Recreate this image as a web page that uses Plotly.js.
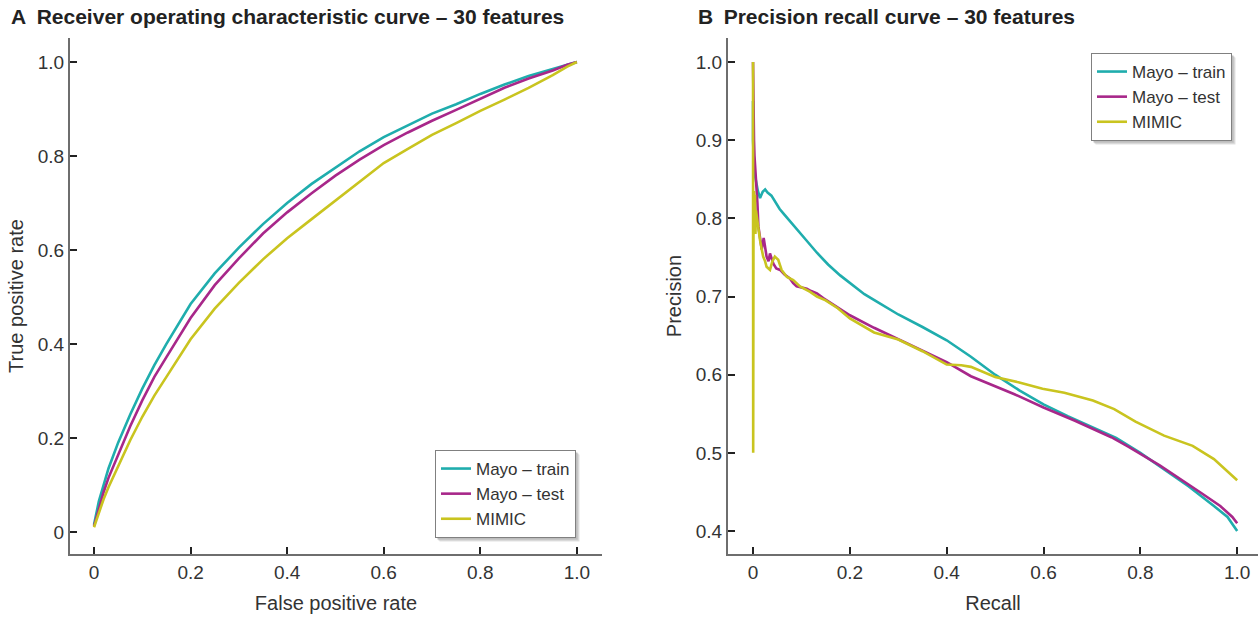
<!DOCTYPE html>
<html>
<head>
<meta charset="utf-8">
<script src="https://cdn.plot.ly/plotly-3.0.1.min.js"></script>
<style>html,body{margin:0;padding:0;background:#fff;}#chart{width:1258px;height:617px;}</style>
</head>
<body>
<div id="chart"></div>
<script>
// ---------- Data ----------
const seriesNames = ["Mayo \u2013 train", "Mayo \u2013 test", "MIMIC"];
const seriesColors = ["#1fadad", "#a8278a", "#c9c41f"];

// Panel A: ROC
const rocFpr   = [0, 0.005, 0.01, 0.02, 0.03, 0.05, 0.075, 0.1, 0.125, 0.15, 0.2, 0.25, 0.3, 0.35, 0.4, 0.45, 0.5, 0.55, 0.6, 0.65, 0.7, 0.75, 0.8, 0.85, 0.9, 0.95, 0.98, 1.0];
const rocTrain = [0.015, 0.04, 0.065, 0.10, 0.135, 0.19, 0.25, 0.305, 0.355, 0.40, 0.485, 0.55, 0.605, 0.655, 0.70, 0.74, 0.775, 0.81, 0.84, 0.865, 0.89, 0.91, 0.932, 0.952, 0.97, 0.985, 0.995, 1.0];
const rocTest  = [0.012, 0.03, 0.05, 0.085, 0.115, 0.165, 0.225, 0.28, 0.33, 0.372, 0.455, 0.525, 0.582, 0.635, 0.68, 0.72, 0.758, 0.792, 0.823, 0.85, 0.875, 0.898, 0.922, 0.945, 0.965, 0.982, 0.994, 1.0];
const rocMimic = [0.01, 0.025, 0.04, 0.07, 0.095, 0.14, 0.195, 0.245, 0.29, 0.33, 0.41, 0.475, 0.53, 0.58, 0.625, 0.665, 0.705, 0.745, 0.785, 0.815, 0.845, 0.87, 0.896, 0.92, 0.945, 0.972, 0.99, 1.0];

// Panel B: precision-recall
const prTrainRecall = [0, 0, 0.002, 0.004, 0.007, 0.010, 0.0145, 0.02, 0.025, 0.03, 0.038, 0.045, 0.055, 0.063, 0.075, 0.09, 0.11, 0.132, 0.155, 0.18, 0.205, 0.23, 0.26, 0.3, 0.35, 0.4, 0.45, 0.5, 0.55, 0.6, 0.65, 0.7, 0.75, 0.8, 0.85, 0.9, 0.95, 0.98, 1.0];
const prTrainPrec   = [0.95, 0.90, 0.87, 0.855, 0.845, 0.835, 0.826, 0.834, 0.837, 0.833, 0.829, 0.822, 0.812, 0.806, 0.797, 0.787, 0.772, 0.756, 0.741, 0.727, 0.715, 0.703, 0.692, 0.677, 0.661, 0.644, 0.623, 0.600, 0.58, 0.562, 0.547, 0.533, 0.519, 0.50, 0.479, 0.457, 0.433, 0.418, 0.40];

const prTestRecall = [0, 0.0005, 0.001, 0.002, 0.003, 0.004, 0.006, 0.0076, 0.009, 0.011, 0.014, 0.018, 0.022, 0.028, 0.032, 0.035, 0.042, 0.048, 0.056, 0.065, 0.076, 0.083, 0.09, 0.1, 0.111, 0.12, 0.132, 0.145, 0.16, 0.18, 0.2, 0.25, 0.3, 0.35, 0.4, 0.45, 0.5, 0.54, 0.6, 0.665, 0.74, 0.775, 0.84, 0.885, 0.925, 0.965, 0.99, 1.0];
const prTestPrec   = [1.0, 0.95, 0.92, 0.90, 0.88, 0.87, 0.855, 0.84, 0.82, 0.79, 0.775, 0.76, 0.775, 0.751, 0.745, 0.755, 0.742, 0.736, 0.734, 0.728, 0.723, 0.717, 0.713, 0.712, 0.71, 0.707, 0.704, 0.698, 0.692, 0.685, 0.676, 0.66, 0.645, 0.63, 0.616, 0.598, 0.585, 0.575, 0.558, 0.541, 0.52, 0.508, 0.484, 0.466, 0.449, 0.432, 0.418, 0.41];

const prMimicRecall = [0, 0.0003, 0.0007, 0.001, 0.002, 0.003, 0.004, 0.005, 0.006, 0.008, 0.011, 0.0145, 0.018, 0.021, 0.025, 0.028, 0.035, 0.04, 0.045, 0.052, 0.059, 0.07, 0.083, 0.097, 0.118, 0.132, 0.15, 0.175, 0.2, 0.25, 0.3, 0.35, 0.4, 0.43, 0.45, 0.5, 0.55, 0.598, 0.643, 0.702, 0.746, 0.79, 0.849, 0.908, 0.952, 0.982, 1.0];
const prMimicPrec   = [1.0, 0.50, 0.84, 0.80, 0.835, 0.79, 0.83, 0.78, 0.81, 0.80, 0.789, 0.772, 0.76, 0.751, 0.745, 0.738, 0.734, 0.745, 0.751, 0.747, 0.734, 0.725, 0.721, 0.713, 0.706, 0.70, 0.695, 0.685, 0.672, 0.654, 0.645, 0.63, 0.613, 0.612, 0.61, 0.597, 0.59, 0.582, 0.577, 0.567, 0.556, 0.540, 0.522, 0.509, 0.492, 0.475, 0.465];

// Tick labels
const rocTickVals = [0, 0.2, 0.4, 0.6, 0.8, 1.0];
const rocTickText = ["0", "0.2", "0.4", "0.6", "0.8", "1.0"];
const prXTickVals = [0, 0.2, 0.4, 0.6, 0.8, 1.0];
const prXTickText = ["0", "0.2", "0.4", "0.6", "0.8", "1.0"];
const prYTickVals = [0.4, 0.5, 0.6, 0.7, 0.8, 0.9, 1.0];
const prYTickText = ["0.4", "0.5", "0.6", "0.7", "0.8", "0.9", "1.0"];

// ---------- Figure ----------
const W = 1258, H = 617;
const FONT = "Liberation Sans, Arial, Helvetica, sans-serif";
const lineW = 2.6;
const TICK_SIZE = 19, TITLE_SIZE = 20, HEAD_SIZE = 21, LEG_SIZE = 17;

const rocY = [rocTrain, rocTest, rocMimic];
const prX = [prTrainRecall, prTestRecall, prMimicRecall];
const prY = [prTrainPrec, prTestPrec, prMimicPrec];

const traces = [];
for (let i = 0; i < 3; i++) {
  traces.push({
    x: rocFpr, y: rocY[i], type: "scatter", mode: "lines",
    name: seriesNames[i], line: {color: seriesColors[i], width: lineW},
    xaxis: "x", yaxis: "y", legend: "legend"
  });
}
for (let i = 0; i < 3; i++) {
  traces.push({
    x: prX[i], y: prY[i], type: "scatter", mode: "lines",
    name: seriesNames[i], line: {color: seriesColors[i], width: lineW},
    xaxis: "x2", yaxis: "y2", legend: "legend2"
  });
}

function axisBase(extra) {
  return Object.assign({
    showline: true, linecolor: "#6e6e6e", linewidth: 2,
    showgrid: false, zeroline: false,
    ticks: "inside", ticklen: 7, tickwidth: 2, tickcolor: "#222",
    tickfont: {family: FONT, size: TICK_SIZE, color: "#333"},
    tickmode: "array", fixedrange: true
  }, extra);
}
function axTitle(t, so) {
  return {text: t, font: {family: FONT, size: TITLE_SIZE, color: "#333"}, standoff: so};
}

const yDom = [1 - 554 / H, 1 - 38 / H];

const legendBase = {
  bgcolor: "#ffffff", bordercolor: "#808080", borderwidth: 1,
  font: {family: FONT, size: LEG_SIZE, color: "#333"},
  xanchor: "left", yanchor: "top", tracegroupgap: 0, itemwidth: 30
};

const layout = {
  width: W, height: H,
  margin: {l: 0, r: 0, t: 0, b: 0, pad: 0},
  paper_bgcolor: "#ffffff", plot_bgcolor: "rgba(0,0,0,0)",
  font: {family: FONT, color: "#333"},
  showlegend: true,
  xaxis: axisBase({
    domain: [70 / W, 602 / W], range: [-0.0497, 1.052], anchor: "y",
    tickvals: rocTickVals, ticktext: rocTickText, title: axTitle("False positive rate", 14)
  }),
  yaxis: axisBase({
    domain: yDom, range: [-0.047, 1.051], anchor: "x",
    tickvals: rocTickVals, ticktext: rocTickText, title: axTitle("True positive rate", 9)
  }),
  xaxis2: axisBase({
    domain: [728 / W, 1.0], range: [-0.0517, 1.043], anchor: "y2",
    tickvals: prXTickVals, ticktext: prXTickText, title: axTitle("Recall", 14)
  }),
  yaxis2: axisBase({
    domain: yDom, range: [0.3706, 1.0307], anchor: "x2",
    tickvals: prYTickVals, ticktext: prYTickText, title: axTitle("Precision", 9)
  }),
  legend: Object.assign({}, legendBase, {x: 435 / W, y: 1 - 450 / H}),
  legend2: Object.assign({}, legendBase, {x: 1091 / W, y: 1 - 53 / H}),
  annotations: [
    {xref: "paper", yref: "paper", x: 9 / W, y: 1 - 17 / H, xanchor: "left", yanchor: "middle",
     showarrow: false, text: "<b>A\u2002Receiver operating characteristic curve \u2013 30 features</b>",
     font: {family: FONT, size: HEAD_SIZE, color: "#222"}},
    {xref: "paper", yref: "paper", x: 696 / W, y: 1 - 17 / H, xanchor: "left", yanchor: "middle",
     showarrow: false, text: "<b>B\u2002Precision recall curve \u2013 30 features</b>",
     font: {family: FONT, size: HEAD_SIZE, color: "#222"}}
  ]
};

Plotly.newPlot("chart", traces, layout, {displayModeBar: false, staticPlot: true}).then(function (gd) {
  // soft drop shadow behind each legend box, measured from the rendered legend
  const c = gd.getBoundingClientRect();
  const shapes = [];
  gd.querySelectorAll("g.legend, g[class^='legend']").forEach(function (lg) {
    const bg = lg.querySelector("rect.bg");
    if (!bg) return;
    const r = bg.getBoundingClientRect();
    const L = r.left - c.left, R = r.right - c.left, T = r.top - c.top, B = r.bottom - c.top;
    [[4, "#e2e2e2"], [3, "#cfcfcf"], [2, "#bdbdbd"]].forEach(function (s) {
      shapes.push({type: "rect", xref: "paper", yref: "paper", layer: "below",
        x0: (L + s[0]) / W, x1: (R + s[0]) / W, y0: 1 - (B + s[0]) / H, y1: 1 - (T + s[0]) / H,
        fillcolor: s[1], line: {width: 0}});
    });
  });
  return Plotly.relayout(gd, {shapes: shapes});
});
</script>
</body>
</html>
